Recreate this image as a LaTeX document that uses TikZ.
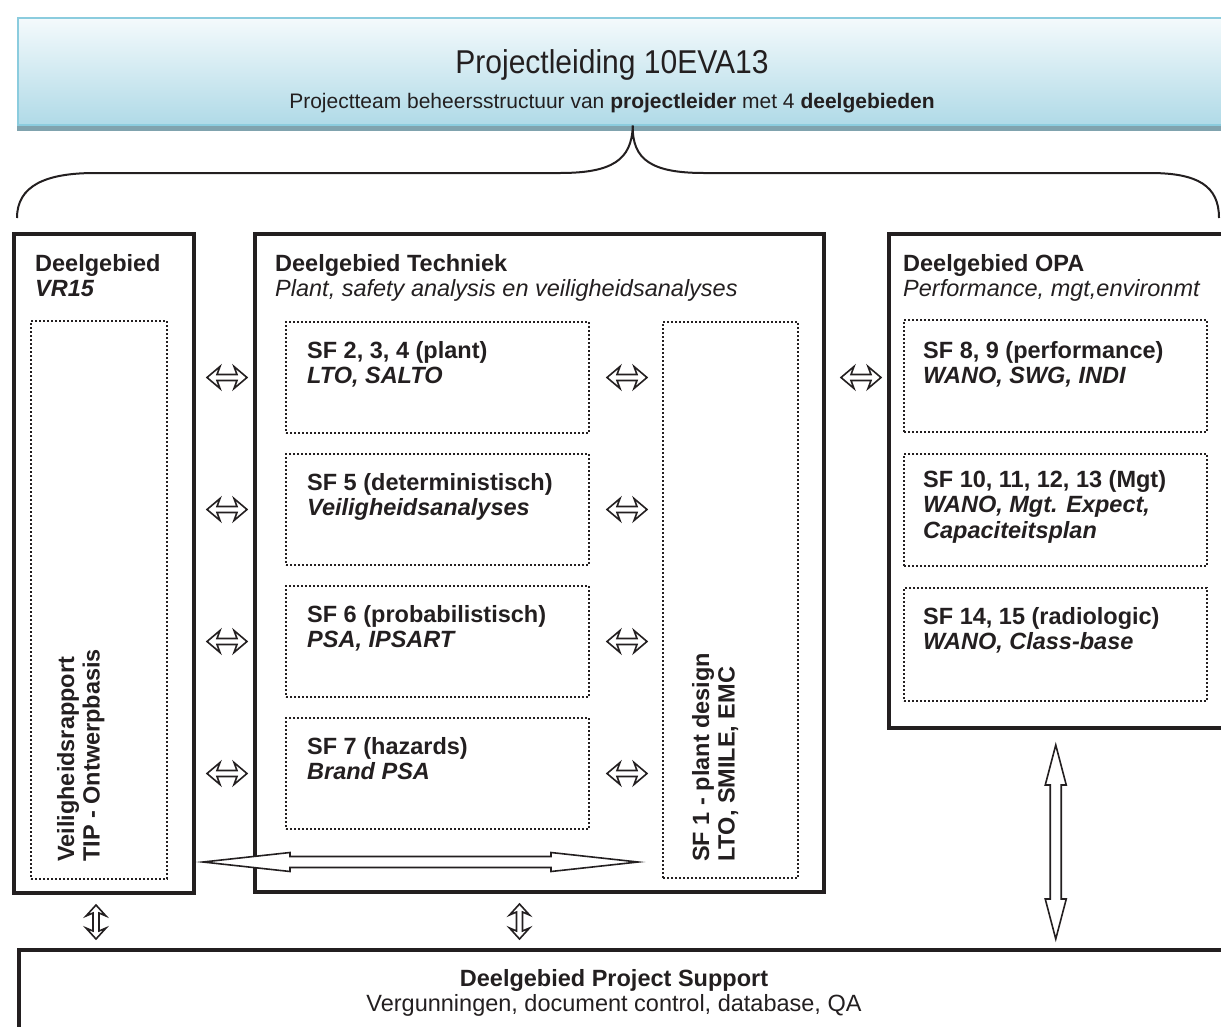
\documentclass[tikz,border=0pt]{standalone}
\usepackage{fontspec}
\setmainfont{Liberation Sans}
\usetikzlibrary{arrows.meta, positioning, calc}
\definecolor{xInk}{RGB}{35,31,32}
\definecolor{xSkyTop}{RGB}{244,250,252}
\definecolor{xSkyBot}{RGB}{176,218,231}
\definecolor{xSkyLine}{RGB}{139,204,222}
\definecolor{xSkyShade}{RGB}{128,163,174}
\newcommand{\Sf}[2]{\textbf{#1}\\\textbf{\textit{#2}}}
\newcommand{\bodysize}{\fontsize{23.5}{25.5}\selectfont}
% hollow double arrows: #1,#2 ends, #3 head length, #4 half head width, #5 half shaft width, #6 barb sweep
\newcommand{\dblH}[6]{%
  \draw[hollow] (#1) -- ++(#3,-#4) -- ++(-#6,#4-#5) -- ($(#2)+(-#3+#6,-#5)$) -- ++(-#6,#5-#4) -- (#2)
    -- ++(-#3,#4) -- ++(#6,#5-#4) -- ($(#1)+(#3-#6,#5)$) -- ++(#6,#4-#5) -- cycle;}
\newcommand{\dblV}[6]{%
  \draw[hollow] (#1) -- ++(#4,#3) -- ++(#5-#4,-#6) -- ($(#2)+(#5,-#3+#6)$) -- ++(#4-#5,-#6) -- (#2)
    -- ++(-#4,-#3) -- ++(#4-#5,#6) -- ($(#1)+(-#5,#3-#6)$) -- ++(#5-#4,#6) -- cycle;}
\tikzset{
  area/.style={draw=xInk, line width=4pt, anchor=north west, inner sep=0pt},
  sfbox/.style={draw=xInk, line width=2pt, dash pattern=on 2pt off 2pt, anchor=north west, inner sep=0pt},
  txt/.style={anchor=north west, align=left, inner sep=0pt, text=xInk, font=\bodysize},
  vtxt/.style={anchor=north west, align=left, inner sep=0pt, text=xInk, font=\bodysize\bfseries, rotate=90},
  banner/.style={anchor=north west, inner sep=0pt, draw=xSkyLine, line width=1.5pt, top color=xSkyTop, bottom color=xSkyBot},
  hollow/.style={draw=xInk, fill=white, line width=1.6pt, line join=miter},
  brace/.style={draw=xInk, line width=2pt},
}

\begin{document}
\begin{tikzpicture}[x=1pt, y=-1pt]
  \useasboundingbox (0,0) rectangle (1221,1026);

  % projectleiding
  \node[banner, minimum width=1230pt, minimum height=107pt] (lead) at (17,17) {};
  \fill[xSkyShade] ([yshift=-0.75pt]lead.south west) rectangle ([yshift=-5pt]lead.south east);
  \node[text=xInk, font=\fontsize{33}{38}\selectfont] (leadtitle) at (612,65) {\scalebox{0.91}[1]{Projectleiding 10EVA13}};
  \node[text=xInk, font=\fontsize{21}{25}\selectfont] (leadsub) at (612,103)
    {Projectteam beheersstructuur van \textbf{projectleider} met 4 \textbf{deelgebieden}};
  \draw[brace] (17,218) .. controls (17,186) and (45,173) .. (95,173) -- (560,173)
    .. controls (612,173) and (632,160) .. (lead.south)
    .. controls (632,160) and (652,173) .. (704,173) -- (1150,173)
    .. controls (1198,173) and (1219,186) .. (1219,218);

  % deelgebieden
  \node[area, minimum width=180pt, minimum height=659pt] (vr) at (12,232) {};
  \node[area, minimum width=569pt, minimum height=658pt] (tech) at (253,232) {};
  \node[area, minimum width=333.5pt, minimum height=494pt] (opa) at (887,232) {};
  \node[area, minimum width=1203.5pt, minimum height=130pt] (ps) at (17,948) {};

  \node[txt] (vrhead) at (35,254) {\textbf{Deelgebied}\\\textbf{\textit{VR15}}};
  \node[txt] (techhead) at (275,254) {\textbf{Deelgebied Techniek}\\\textit{Plant, safety analysis en veiligheidsanalyses}};
  \node[txt] (opahead) at (903,254) {\textbf{Deelgebied OPA}\\\textit{Performance, mgt,environmt}};
  \node[text=xInk, font=\bodysize, align=center] (pshead) at (614,993)
    {\textbf{Deelgebied Project Support}\\Vergunningen, document control, database, QA};

  % VR15
  \node[sfbox, minimum width=136pt, minimum height=558pt] (vrbox) at (30,320) {};
  \node[vtxt] (vrtext) at (57,862) {Veiligheidsrapport\\TIP - Ontwerpbasis};

  % Techniek
  \node[sfbox, minimum width=303pt, minimum height=111pt] (sf2) at (285,321) {};
  \node[sfbox, minimum width=303pt, minimum height=111pt] (sf5) at (285,453) {};
  \node[sfbox, minimum width=303pt, minimum height=111pt] (sf6) at (285,585) {};
  \node[sfbox, minimum width=303pt, minimum height=111pt] (sf7) at (285,717) {};
  \node[sfbox, minimum width=135pt, minimum height=556pt] (sf1) at (662,321) {};
  \node[txt] (sf2text) at (307,341) {\Sf{SF 2, 3, 4 (plant)}{LTO, SALTO}};
  \node[txt] (sf5text) at (307,473) {\Sf{SF 5 (deterministisch)}{Veiligheidsanalyses}};
  \node[txt] (sf6text) at (307,605) {\Sf{SF 6 (probabilistisch)}{PSA, IPSART}};
  \node[txt] (sf7text) at (307,737) {\Sf{SF 7 (hazards)}{Brand PSA}};
  \node[vtxt] (sf1text) at (692,862) {SF 1 - plant design\\LTO, SMILE, EMC};

  % OPA
  \node[sfbox, minimum width=303pt, minimum height=112pt] (sf8) at (903,319) {};
  \node[sfbox, minimum width=303pt, minimum height=112pt] (sf10) at (903,453) {};
  \node[sfbox, minimum width=303pt, minimum height=113pt] (sf14) at (903,587) {};
  \node[txt] (sf8text) at (923,341) {\Sf{SF 8, 9 (performance)}{WANO, SWG, INDI}};
  \node[txt] (sf10text) at (923,470) {\textbf{SF 10, 11, 12, 13 (Mgt)}\\\textbf{\textit{WANO, Mgt. Expect,}}\\\textbf{\textit{Capaciteitsplan}}};
  \node[txt] (sf14text) at (923,607) {\Sf{SF 14, 15 (radiologic)}{WANO, Class-base}};

  % koppelingen
  \foreach \row in {sf2, sf5, sf6, sf7} {
    \coordinate (\row a) at ([xshift=11pt]vr.east |- \row.west);
    \coordinate (\row b) at ([xshift=51pt]vr.east |- \row.west);
    \dblH{\row a}{\row b}{13}{11}{3}{3}
    \coordinate (\row c) at ([xshift=17pt]\row.east);
    \coordinate (\row d) at ([xshift=57pt]\row.east);
    \dblH{\row c}{\row d}{13}{11}{3}{3}
  }
  \coordinate (techa) at ([xshift=15pt]tech.east |- sf2.east);
  \coordinate (techb) at ([xshift=55pt]tech.east |- sf2.east);
  \dblH{techa}{techb}{13}{11}{3}{3}

  \coordinate (vrfoot) at ([xshift=-8pt, yshift=-10pt]vr.south);
  \coordinate (vrhit) at ([yshift=9pt]vrfoot |- ps.north);
  \dblV{vrfoot}{vrhit}{11}{10}{3}{3}
  \coordinate (techfoot) at ([xshift=-20pt, yshift=-10pt]tech.south);
  \coordinate (techhit) at ([yshift=9pt]techfoot |- ps.north);
  \dblV{techfoot}{techhit}{11}{10}{3}{3}

  \coordinate (spanL) at (203,862);
  \coordinate (spanR) at (638,862);
  \dblH{spanL}{spanR}{87}{9.5}{5.5}{0}

  \coordinate (opafoot) at ([yshift=-15pt]opa.south);
  \coordinate (pshit) at (opafoot |- ps.north);
  \coordinate (pstop) at ([yshift=9pt]pshit);
  \dblV{opafoot}{pstop}{40}{10.5}{5.5}{0}
\end{tikzpicture}
\end{document}
